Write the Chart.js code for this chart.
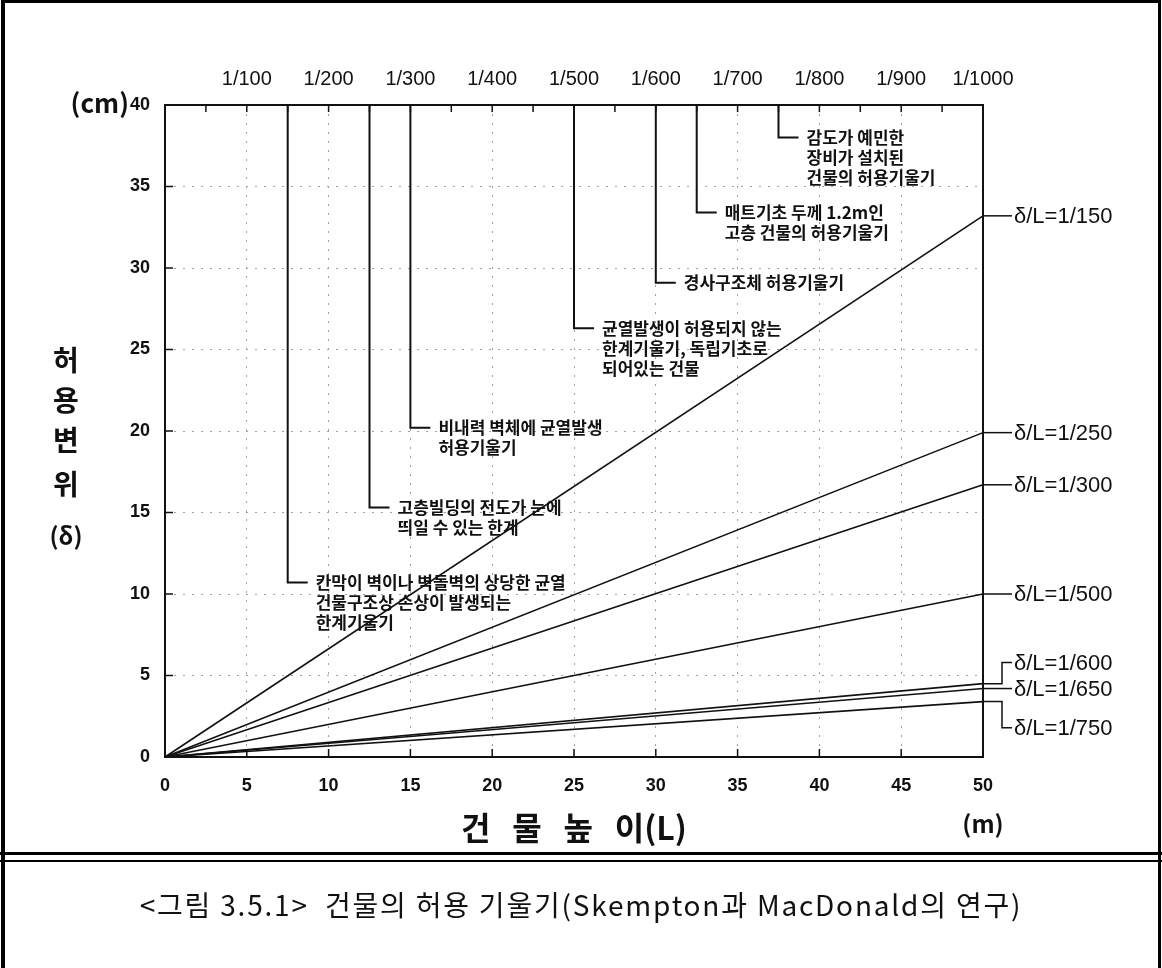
<!DOCTYPE html>
<html>
<head>
<meta charset="utf-8">
<script src="https://cdn.jsdelivr.net/npm/chart.js@4.4.1/dist/chart.umd.min.js"></script>
<style>
  body { margin: 0; background: #fff; }
  #wrap { position: relative; width: 1162px; height: 968px; overflow: hidden; }
  #c { position: absolute; left: 0; top: 0; }
  #box { position: absolute; left: 1px; top: 0; width: 1160px; height: 968px; box-sizing: border-box;
         border: 3px solid #000; border-left-width: 4px; border-bottom: none; pointer-events: none; }
  #rule { position: absolute; left: 0; top: 852px; width: 1162px; height: 10px; box-sizing: border-box;
          border-top: 3px solid #000; border-bottom: 2px solid #000; }
  #cap { position: absolute; left: 0; top: 884px; width: 1162px; text-align: center;
         font: 28px 'Noto Sans CJK KR', sans-serif; letter-spacing: 1.8px; color: #111; white-space: pre; }
</style>
</head>
<body>
<div id="wrap">
  <canvas id="c" width="1162" height="855"></canvas>
  <div id="box"></div>
  <div id="rule"></div>
  <div id="cap">&lt;그림 3.5.1&gt;  건물의 허용 기울기(Skempton과 MacDonald의 연구)</div>
</div>
<script>
// building height (m) at the two ends of each line
const heightsM = [0, 50];
const slopeLabels = ['δ/L=1/150', 'δ/L=1/250', 'δ/L=1/300', 'δ/L=1/500', 'δ/L=1/600', 'δ/L=1/650', 'δ/L=1/750'];
// displacement (cm) read at L = 50 m
const dispAt50 = [33.2, 19.9, 16.7, 10.0, 4.5, 4.2, 3.4];

const topTickLabels = ['1/100', '1/200', '1/300', '1/400', '1/500', '1/600', '1/700', '1/800', '1/900', '1/1000'];

// limit notes hanging from the top axis
const noteX = [7.5, 12.5, 15, 25, 30, 32.5, 37.5];
const noteY = [10.7, 15.3, 20.2, 26.3, 29.1, 33.4, 38.0];
const noteText = [
  ['칸막이 벽이나 벽돌벽의 상당한 균열', '건물구조상 손상이 발생되는', '한계기울기'],
  ['고층빌딩의 전도가 눈에', '띄일 수 있는 한계'],
  ['비내력 벽체에 균열발생', '허용기울기'],
  ['균열발생이 허용되지 않는', '한계기울기, 독립기초로', '되어있는 건물'],
  ['경사구조체 허용기울기'],
  ['매트기초 두께 1.2m인', '고층 건물의 허용기울기'],
  ['감도가 예민한', '장비가 설치된', '건물의 허용기울기']
];

// where the right hand labels sit (in cm), so the three low ones don't collide
const labelAt = [33.2, 19.9, 16.7, 10.0, 5.8, 4.2, 1.8];

const yTitle = ['허', '용', '변', '위'];
const yTitleAt = [360, 400, 440, 484];

const KR = "'Noto Sans CJK KR', sans-serif";
const LAT = "'Liberation Sans', Arial, sans-serif";

const decor = {
  id: 'decor',
  afterDatasetsDraw(chart) {
    const ctx = chart.ctx;
    const x = chart.scales.x, y = chart.scales.y;
    const a = chart.chartArea;
    ctx.save();
    ctx.strokeStyle = '#111';
    ctx.fillStyle = '#111';

    // inward ticks
    ctx.lineWidth = 1.5;
    ctx.beginPath();
    for (let v = 0; v <= 40; v += 5) {
      const py = y.getPixelForValue(v);
      ctx.moveTo(a.left, py); ctx.lineTo(a.left + 8, py);
    }
    for (let v = 5; v < 50; v += 5) {
      const px = x.getPixelForValue(v);
      ctx.moveTo(px, a.bottom); ctx.lineTo(px, a.bottom - 8);
    }
    for (let v = 2.5; v < 50; v += 2.5) {
      const px = x.getPixelForValue(v);
      ctx.moveTo(px, a.top); ctx.lineTo(px, a.top + 7);
    }
    ctx.stroke();

    // notes
    ctx.lineWidth = 2;
    ctx.font = 'bold 17px ' + KR;
    ctx.textBaseline = 'middle';
    ctx.textAlign = 'left';
    noteX.forEach((nx, i) => {
      const px = x.getPixelForValue(nx);
      const py = y.getPixelForValue(noteY[i]);
      ctx.beginPath();
      ctx.moveTo(px, a.top);
      ctx.lineTo(px, py);
      ctx.lineTo(px + 20, py);
      ctx.stroke();
      noteText[i].forEach((t, k) => ctx.fillText(t, px + 28, py + k * 20));
    });

    // right hand labels with leaders
    ctx.lineWidth = 1.5;
    ctx.font = '22px ' + LAT;
    slopeLabels.forEach((lab, i) => {
      const y0 = y.getPixelForValue(dispAt50[i]);
      const y1 = y.getPixelForValue(labelAt[i]);
      ctx.beginPath();
      ctx.moveTo(a.right, y0);
      if (Math.abs(y1 - y0) > 2) {
        ctx.lineTo(a.right + 19, y0);
        ctx.lineTo(a.right + 19, y1);
      }
      ctx.lineTo(a.right + 29, y1);
      ctx.stroke();
      ctx.fillText(lab, a.right + 31, y1 + 1);
    });

    // frame
    ctx.lineWidth = 2;
    ctx.strokeRect(a.left, a.top, a.right - a.left, a.bottom - a.top);

    // axis texts
    ctx.font = 'bold 26px ' + KR;
    ctx.textAlign = 'right';
    ctx.fillText('(cm)', a.left - 36, a.top - 2);
    ctx.textAlign = 'center';
    ctx.font = 'bold 24px ' + KR;
    ctx.fillText('(m)', x.getPixelForValue(50), 824);
    ctx.font = 'bold 28px ' + KR;
    yTitle.forEach((ch, i) => ctx.fillText(ch, 66, yTitleAt[i]));
    ctx.font = 'bold 24px ' + KR;
    ctx.fillText('(δ)', 66, 536);
    ctx.restore();
  }
};

new Chart(document.getElementById('c'), {
  type: 'line',
  data: {
    datasets: slopeLabels.map((lab, i) => ({
      label: lab,
      data: heightsM.map(h => ({ x: h, y: h === 0 ? 0 : dispAt50[i] })),
      borderColor: '#111',
      borderWidth: 1.6,
      pointRadius: 0,
      fill: false,
      clip: false
    }))
  },
  plugins: [decor],
  options: {
    responsive: false,
    animation: false,
    devicePixelRatio: 1,
    layout: { padding: { left: 0, right: 179, top: 0, bottom: 0 } },
    plugins: { legend: { display: false }, tooltip: { enabled: false } },
    scales: {
      x: {
        type: 'linear', position: 'bottom', min: 0, max: 50,
        afterFit: s => { s.height = 98; },
        ticks: { stepSize: 5, padding: 18, color: '#111', font: { family: LAT, size: 18, weight: 'bold' } },
        grid: { color: '#a0a0a0', lineWidth: 1, drawTicks: false },
        border: { display: false, dash: [2, 7] },
        title: {
          display: true, text: '건   물   높   이(L)', color: '#111',
          font: { family: KR, size: 32, weight: 'bold' }, padding: { top: 0, bottom: 8 }
        }
      },
      x2: {
        type: 'linear', position: 'top', min: 0, max: 50,
        afterFit: s => { s.height = 105; },
        ticks: {
          stepSize: 5, padding: 14, color: '#111', font: { family: LAT, size: 20 },
          callback: v => (v === 0 ? '' : topTickLabels[Math.round(v / 5) - 1])
        },
        grid: { display: false, drawTicks: false },
        border: { display: false }
      },
      y: {
        min: 0, max: 40,
        afterFit: s => { s.width = 165; },
        ticks: { stepSize: 5, padding: 15, color: '#111', font: { family: LAT, size: 18, weight: 'bold' } },
        grid: { color: '#a0a0a0', lineWidth: 1, drawTicks: false },
        border: { display: false, dash: [2, 7] }
      }
    }
  }
});
</script>
</body>
</html>
